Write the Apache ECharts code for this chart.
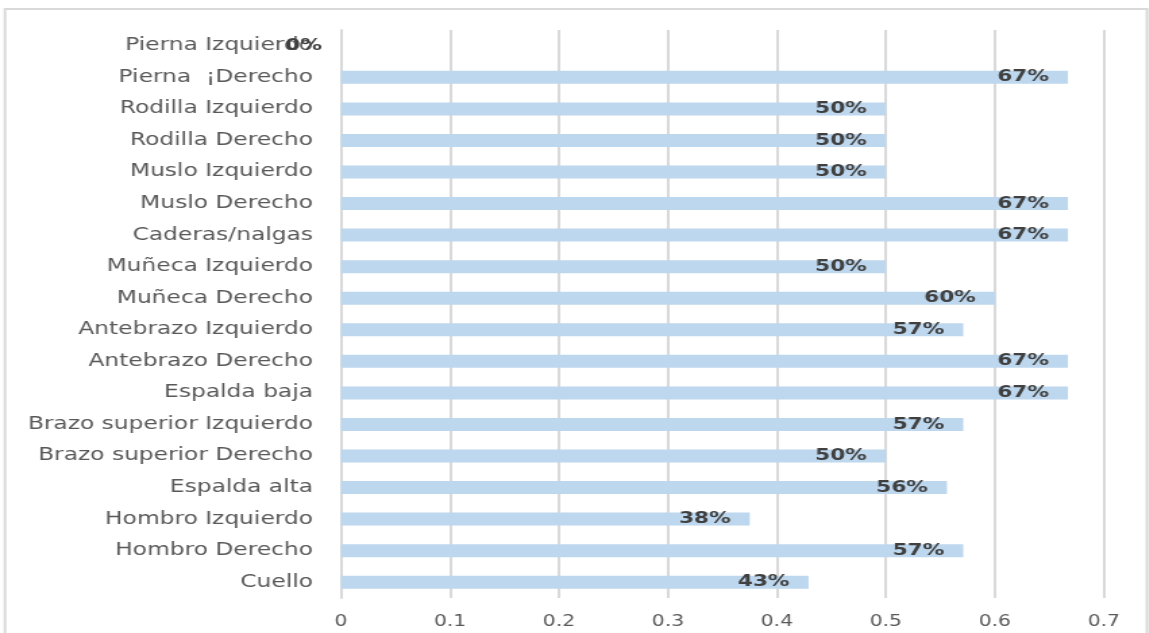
<!DOCTYPE html>
<html>
<head>
<meta charset="utf-8">
<script src="https://cdn.jsdelivr.net/npm/echarts@6/dist/echarts.min.js"></script>
<style>
  html, body { margin: 0; padding: 0; background: #fff; overflow: hidden; }
  /* The chart is laid out narrower and widened horizontally, giving the broad lettering */
  #chart { width: 851px; height: 633px; transform: scaleX(1.35); transform-origin: 0 0; }
</style>
</head>
<body>
<div id="chart"></div>
<script>
// Body regions, listed bottom to top as drawn on the category axis
const categories = [
  'Cuello', 'Hombro Derecho', 'Hombro Izquierdo', 'Espalda alta',
  'Brazo superior Derecho', 'Brazo superior Izquierdo', 'Espalda baja',
  'Antebrazo Derecho', 'Antebrazo Izquierdo', 'Muñeca Derecho',
  'Muñeca Izquierdo', 'Caderas/nalgas', 'Muslo Derecho', 'Muslo Izquierdo',
  'Rodilla Derecho', 'Rodilla Izquierdo', 'Pierna  ¡Derecho', 'Pierna Izquierdo'
];
// Share of cases per region
const values = [
  0.429, 0.571, 0.375, 0.556,
  0.5, 0.571, 0.667,
  0.667, 0.571, 0.6,
  0.5, 0.667, 0.667, 0.5,
  0.5, 0.5, 0.667, 0
];
const xTicks = [0, 0.1, 0.2, 0.3, 0.4, 0.5, 0.6, 0.7];

const SX = 1.35; // horizontal stretch applied to the chart container
const px = v => v / SX;

const chart = echarts.init(document.getElementById('chart'), null, { renderer: 'canvas' });
const font = 'DejaVu Sans';

chart.setOption({
  animation: false,
  backgroundColor: '#ffffff',
  graphic: [{
    type: 'rect',
    shape: { x: px(5), y: 9, width: px(1142), height: 640 },
    style: { fill: 'none', stroke: '#d9d9d9', lineWidth: 2 },
    silent: true
  }],
  grid: { left: px(341), right: px(45), top: 30, bottom: 35 },
  xAxis: {
    type: 'value',
    min: xTicks[0],
    max: xTicks[xTicks.length - 1],
    interval: 0.1,
    axisLine: { show: false },
    axisTick: { show: false },
    splitLine: { show: true, lineStyle: { color: '#d9d9d9', width: 2 } },
    axisLabel: {
      color: '#595959', fontFamily: font, fontSize: 15, margin: 17,
      formatter: v => String(Math.round(v * 10) / 10)
    }
  },
  yAxis: {
    type: 'category',
    data: categories,
    axisLine: { show: true, lineStyle: { color: '#d9d9d9', width: 2 } },
    axisTick: { show: false },
    axisLabel: { color: '#595959', fontFamily: font, fontSize: 17.3, margin: px(28) }
  },
  series: [{
    type: 'bar',
    data: values,
    barWidth: 13,
    itemStyle: { color: '#bdd7ee' },
    label: {
      show: true,
      position: 'insideRight',
      distance: px(19),
      color: '#404040',
      fontFamily: font,
      fontWeight: 'bold',
      fontSize: 16,
      formatter: p => Math.round(p.value * 100) + '%'
    }
  }]
});
</script>
</body>
</html>
